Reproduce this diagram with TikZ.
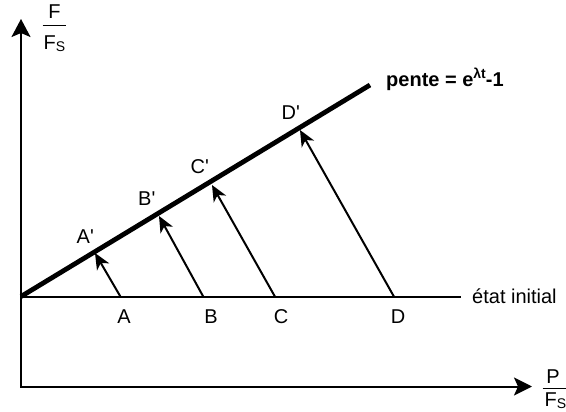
\documentclass[tikz,border=0pt]{standalone}
\usepackage{fontspec}
\setmainfont{Liberation Sans}
\usetikzlibrary{arrows.meta}
\begin{document}
\begin{tikzpicture}[x=1pt,y=-1pt,
  lbl/.style={inner sep=0pt, font=\fontsize{20}{24}\selectfont},
  thinline/.style={line width=2pt},
  thickline/.style={line width=4.8pt},
  fracbar/.style={line width=1.3pt},
  axes/.style={line width=2pt, {Stealth[length=18pt,width=19pt,inset=4pt]}-{Stealth[length=18pt,width=18pt,inset=4pt]}},
  mv/.style={line width=2pt, -{Stealth[length=16pt,width=14pt,inset=4.5pt]}}]
\useasboundingbox (0,0) rectangle (566,412);
% axes
\coordinate (Ytip) at (21,19);
\coordinate (O) at (21,386.5);
\coordinate (Xtip) at (532,386.5);
\draw[axes] (Ytip) -- (O) -- (Xtip);
% initial state line
\coordinate (I0) at (21,296.7);
\coordinate (I1) at (461,296.7);
\draw[thinline] (I0) -- (I1);
% slope line
\coordinate (S0) at (21,296.5);
\coordinate (S1) at (370,85);
\draw[thickline] (S0) -- (S1);
% points and arrows
\coordinate (A) at (120.5,296.7);
\coordinate (B) at (203.3,296.7);
\coordinate (C) at (275,296.7);
\coordinate (D) at (394,296.7);
\coordinate (Ap) at (95,253);
\coordinate (Bp) at (159,216);
\coordinate (Cp) at (212,185);
\coordinate (Dp) at (300,130);
\draw[mv] (A) -- (Ap);
\draw[mv] (B) -- (Bp);
\draw[mv] (C) -- (Cp);
\draw[mv] (D) -- (Dp);
% labels
\node[lbl, anchor=base] (lA) at (124,323.3) {A};
\node[lbl, anchor=base] (lB) at (211,323.3) {B};
\node[lbl, anchor=base] (lC) at (281,323.3) {C};
\node[lbl, anchor=base] (lD) at (398,323.3) {D};
\node[lbl, anchor=base west] (lAp) at (76.5,243.3) {A\textquotesingle};
\node[lbl, anchor=base west] (lBp) at (138,205.7) {B\textquotesingle};
\node[lbl, anchor=base west] (lCp) at (190.5,173.3) {C\textquotesingle};
\node[lbl, anchor=base west] (lDp) at (281.5,120) {D\textquotesingle};
\node[lbl, anchor=base west] (etat) at (472,303.3) {état initial};
\node[lbl, anchor=base west, font=\fontsize{20}{24}\selectfont\bfseries] (pente) at (386,86.7)
  {pente = e\raisebox{8pt}{\fontsize{14}{16}\selectfont\bfseries λt}-1};
% y-axis fraction
\node[lbl, anchor=base] (Fnum) at (54.5,18.3) {F};
\coordinate (yb0) at (42.7,25.7);
\coordinate (yb1) at (66,25.7);
\draw[fracbar] (yb0) -- (yb1);
\node[lbl, anchor=base west] (Fden) at (43.5,49.3) {F\raisebox{-2pt}{\fontsize{14}{16}\selectfont S}};
% x-axis fraction
\node[lbl, anchor=base] (Pnum) at (553,383.3) {P};
\coordinate (xb0) at (542.7,388.3);
\coordinate (xb1) at (566,388.3);
\draw[fracbar] (xb0) -- (xb1);
\node[lbl, anchor=base west] (Pden) at (544.5,406.7) {F\raisebox{-2pt}{\fontsize{14}{16}\selectfont S}};
\end{tikzpicture}
\end{document}
